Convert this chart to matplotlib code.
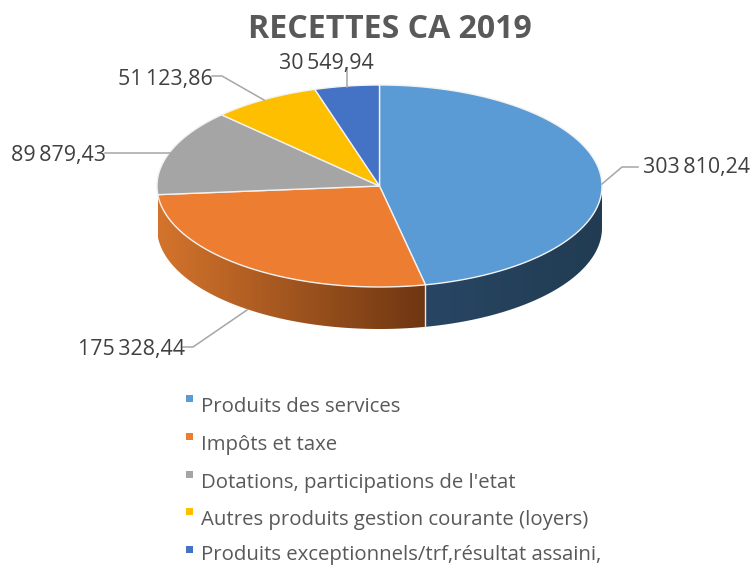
import numpy as np
import matplotlib
matplotlib.use("Agg")
import matplotlib.pyplot as plt
from matplotlib.patches import Polygon, Rectangle
from matplotlib.colors import to_rgb

title = "RECETTES CA 2019"
categories = ["Produits des services", "Impôts et taxe", "Dotations, participations de l'etat",
              "Autres produits gestion courante (loyers)", "Produits exceptionnels/trf,résultat assaini,"]
values = [303810.24, 175328.44, 89879.43, 51123.86, 30549.94]
labels = ["303\u2009810,24", "175\u2009328,44", "89\u2009879,43", "51\u2009123,86", "30\u2009549,94"]
colors = ["#5B9BD5", "#ED7D31", "#A5A5A5", "#FDBF00", "#4472C4"]
side_from = ["#284664", "#D4742C"]
side_to = ["#213C52", "#6E3612"]

W, H = 751, 566
CX, CY, RX, RY, DEPTH = 379.5, 186, 222.5, 101, 42
FONT = ["Open Sans", "DejaVu Sans"]

fig = plt.figure(figsize=(W/100, H/100), dpi=100, facecolor="white")
ax = fig.add_axes([0, 0, 1, 1])
ax.set_xlim(0, W); ax.set_ylim(H, 0); ax.axis("off")

def pt(a, dy=0):
    return CX + RX*np.sin(a), CY - RY*np.cos(a) + dy

fr = np.array(values)/sum(values)
edges = np.concatenate([[0], np.cumsum(fr)])*2*np.pi

# side walls (front half only) filled with a horizontal gradient
for i in range(2):
    a0, a1 = max(edges[i], np.pi/2), min(edges[i+1], 3*np.pi/2)
    aa = np.linspace(a0, a1, 200)
    top = [pt(a) for a in aa]
    bottom = [pt(a, DEPTH) for a in aa[::-1]]
    wall = Polygon(top + bottom, closed=True, fc="none", ec="none", transform=ax.transData)
    ax.add_patch(wall)
    x_lo, x_hi = min(p[0] for p in top), max(p[0] for p in top)
    c_left = np.array(to_rgb(side_from[i])); c_right = np.array(to_rgb(side_to[i]))
    t = np.linspace(0, 1, 256)[None, :, None]
    img = c_left[None, None, :] + (c_right - c_left)[None, None, :]*t
    y_lo, y_hi = min(p[1] for p in top), max(p[1] for p in bottom)
    im = ax.imshow(img, extent=[x_lo, x_hi, y_hi, y_lo], aspect="auto", zorder=1, interpolation="bilinear")
    im.set_clip_path(wall)
ax.set_xlim(0, W); ax.set_ylim(H, 0)

# seam between the two visible walls
xs, ys = pt(edges[1])
ax.plot([xs, xs], [ys, ys+DEPTH], color="#E8E8E8", lw=1, zorder=2)

# top faces
for i in range(5):
    aa = np.linspace(edges[i], edges[i+1], 200)
    xy = [(CX, CY)] + [pt(a) for a in aa]
    ax.add_patch(Polygon(xy, closed=True, fc=colors[i], ec="#F2F2F2", lw=1, zorder=3))

# leader lines
leaders = [
    [(602, 184), (622, 167), (638, 167)],
    [(247, 310), (193, 347), (183, 347)],
    [(170, 153), (105, 153)],
    [(264, 100), (222, 76), (212, 76)],
    [(347, 87), (347, 68)],
]
for pts in leaders:
    ax.plot(*zip(*pts), color="#A6A6A6", lw=1.1, zorder=4)

pos = [(643, 168), (78, 349), (11, 156), (118, 80), (279, 64)]
for (x, y), s in zip(pos, labels):
    ax.text(x, y, s, ha="left", va="center", fontsize=15.4, color="#404040", family=FONT, zorder=5)

ax.text(389.5, 29, title, ha="center", va="center", fontsize=23.1, fontweight="bold", color="#595959", family=FONT)

# legend
ly = [407, 445, 483, 520, 555]
my = [395, 433, 471, 508, 546]
for y, m, c, s in zip(ly, my, colors, categories):
    ax.add_patch(Rectangle((185.5, m), 7, 7, fc=c, ec="none"))
    ax.text(201, y, s, ha="left", va="center", fontsize=14.65, color="#595959", family=FONT)

fig.savefig("out.png", dpi=100)
